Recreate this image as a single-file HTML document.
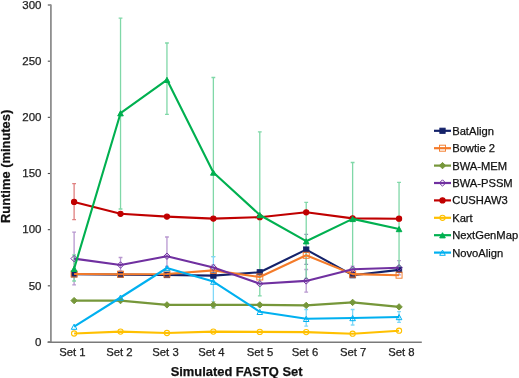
<!DOCTYPE html>
<html><head><meta charset="utf-8"><style>
html,body{margin:0;padding:0;background:#fff;}
body{width:519px;height:378px;overflow:hidden;}
svg{display:block;will-change:transform;}
text{font-family:"Liberation Sans",sans-serif;stroke:currentColor;stroke-width:0.25px;}
</style></head><body>
<svg width="519" height="378" viewBox="0 0 519 378">
<rect width="519" height="378" fill="#fff"/>

<line x1="47.8" y1="342.00" x2="51" y2="342.00" stroke="#4a4a4a" stroke-width="1.1"/>
<text x="41.5" y="346.10" font-size="11.5" text-anchor="end" fill="#222" color="#222">0</text>
<line x1="47.8" y1="285.83" x2="51" y2="285.83" stroke="#4a4a4a" stroke-width="1.1"/>
<text x="41.5" y="289.94" font-size="11.5" text-anchor="end" fill="#222" color="#222">50</text>
<line x1="47.8" y1="229.67" x2="51" y2="229.67" stroke="#4a4a4a" stroke-width="1.1"/>
<text x="41.5" y="232.97" font-size="11.5" text-anchor="end" fill="#222" color="#222">100</text>
<line x1="47.8" y1="173.50" x2="51" y2="173.50" stroke="#4a4a4a" stroke-width="1.1"/>
<text x="41.5" y="176.81" font-size="11.5" text-anchor="end" fill="#222" color="#222">150</text>
<line x1="47.8" y1="117.34" x2="51" y2="117.34" stroke="#4a4a4a" stroke-width="1.1"/>
<text x="41.5" y="121.44" font-size="11.5" text-anchor="end" fill="#222" color="#222">200</text>
<line x1="47.8" y1="61.18" x2="51" y2="61.18" stroke="#4a4a4a" stroke-width="1.1"/>
<text x="41.5" y="65.28" font-size="11.5" text-anchor="end" fill="#222" color="#222">250</text>
<line x1="47.8" y1="5.01" x2="51" y2="5.01" stroke="#4a4a4a" stroke-width="1.1"/>
<text x="41.5" y="9.11" font-size="11.5" text-anchor="end" fill="#222" color="#222">300</text>
<line x1="50.9" y1="4.41" x2="50.9" y2="342.8" stroke="#8f8f8f" stroke-width="1.8"/>
<line x1="47.6" y1="342.3" x2="421.8" y2="342.3" stroke="#7a7a7a" stroke-width="1.4"/>
<text x="72.35" y="356.1" font-size="11.3" text-anchor="middle" fill="#222" color="#222">Set 1</text>
<text x="119.35" y="356.1" font-size="11.3" text-anchor="middle" fill="#222" color="#222">Set 2</text>
<text x="165.50" y="356.1" font-size="11.3" text-anchor="middle" fill="#222" color="#222">Set 3</text>
<text x="211.40" y="356.1" font-size="11.3" text-anchor="middle" fill="#222" color="#222">Set 4</text>
<text x="260.00" y="356.1" font-size="11.3" text-anchor="middle" fill="#222" color="#222">Set 5</text>
<text x="305.00" y="356.1" font-size="11.3" text-anchor="middle" fill="#222" color="#222">Set 6</text>
<text x="353.20" y="356.1" font-size="11.3" text-anchor="middle" fill="#222" color="#222">Set 7</text>
<text x="401.35" y="356.1" font-size="11.3" text-anchor="middle" fill="#222" color="#222">Set 8</text>
<text x="236.6" y="376.2" font-size="12.9" font-weight="bold" text-anchor="middle" fill="#111" color="#111">Simulated FASTQ Set</text>
<text transform="translate(10.3,166.4) rotate(-90)" font-size="12.9" font-weight="bold" text-anchor="middle" fill="#111" color="#111">Runtime (minutes)</text>
<path d="M306.21 234.30V264.30M304.31 234.30H308.11M304.31 264.30H308.11" stroke="#8a90b4" stroke-width="1.3" fill="none"/>
<path d="M213.37 301.70V308.30M211.47 301.70H215.27M211.47 308.30H215.27" stroke="#bacb9c" stroke-width="1.3" fill="none"/>
<path d="M74.11 232.20V284.80M72.21 232.20H76.01M72.21 284.80H76.01" stroke="#b898d0" stroke-width="1.3" fill="none"/>
<path d="M120.53 257.50V270.80M118.63 257.50H122.43M118.63 270.80H122.43" stroke="#b898d0" stroke-width="1.3" fill="none"/>
<path d="M166.95 237.00V266.50M165.05 237.00H168.85M165.05 266.50H168.85" stroke="#b898d0" stroke-width="1.3" fill="none"/>
<path d="M213.37 264.80V270.20M211.47 264.80H215.27M211.47 270.20H215.27" stroke="#b898d0" stroke-width="1.3" fill="none"/>
<path d="M306.21 269.50V292.20M304.31 269.50H308.11M304.31 292.20H308.11" stroke="#b898d0" stroke-width="1.3" fill="none"/>
<path d="M352.63 266.10V272.50M350.73 266.10H354.53M350.73 272.50H354.53" stroke="#b898d0" stroke-width="1.3" fill="none"/>
<path d="M399.05 260.70V274.90M397.15 260.70H400.95M397.15 274.90H400.95" stroke="#b898d0" stroke-width="1.3" fill="none"/>
<path d="M74.11 183.60V219.70M72.21 183.60H76.01M72.21 219.70H76.01" stroke="#e08080" stroke-width="1.3" fill="none"/>
<path d="M74.11 255.00V281.00M72.21 255.00H76.01M72.21 281.00H76.01" stroke="#80d8a8" stroke-width="1.3" fill="none"/>
<path d="M120.53 18.20V209.00M118.63 18.20H122.43M118.63 209.00H122.43" stroke="#80d8a8" stroke-width="1.3" fill="none"/>
<path d="M166.95 43.00V114.40M165.05 43.00H168.85M165.05 114.40H168.85" stroke="#80d8a8" stroke-width="1.3" fill="none"/>
<path d="M213.37 77.50V256.60M211.47 77.50H215.27M211.47 256.60H215.27" stroke="#80d8a8" stroke-width="1.3" fill="none"/>
<path d="M259.79 131.80V295.90M257.89 131.80H261.69M257.89 295.90H261.69" stroke="#80d8a8" stroke-width="1.3" fill="none"/>
<path d="M306.21 202.40V278.30M304.31 202.40H308.11M304.31 278.30H308.11" stroke="#80d8a8" stroke-width="1.3" fill="none"/>
<path d="M352.63 162.50V268.00M350.73 162.50H354.53M350.73 268.00H354.53" stroke="#80d8a8" stroke-width="1.3" fill="none"/>
<path d="M399.05 182.40V266.00M397.15 182.40H400.95M397.15 266.00H400.95" stroke="#80d8a8" stroke-width="1.3" fill="none"/>
<path d="M213.37 256.60V307.00M211.47 256.60H215.27M211.47 307.00H215.27" stroke="#80d8f8" stroke-width="1.3" fill="none"/>
<path d="M306.21 309.50V326.20M304.31 309.50H308.11M304.31 326.20H308.11" stroke="#80d8f8" stroke-width="1.3" fill="none"/>
<path d="M352.63 309.50V325.00M350.73 309.50H354.53M350.73 325.00H354.53" stroke="#80d8f8" stroke-width="1.3" fill="none"/>
<path d="M399.05 311.60V322.40M397.15 311.60H400.95M397.15 322.40H400.95" stroke="#80d8f8" stroke-width="1.3" fill="none"/>
<polyline points="74.11,274.30 120.53,274.60 166.95,275.00 213.37,275.60 259.79,272.30 306.21,249.60 352.63,275.20 399.05,269.90" fill="none" stroke="#14226a" stroke-width="2.1" stroke-linejoin="round"/>
<rect x="71.41" y="271.60" width="5.40" height="5.40" fill="#14226a" stroke="#14226a" stroke-width="0.8"/>
<rect x="117.83" y="271.90" width="5.40" height="5.40" fill="#14226a" stroke="#14226a" stroke-width="0.8"/>
<rect x="164.25" y="272.30" width="5.40" height="5.40" fill="#14226a" stroke="#14226a" stroke-width="0.8"/>
<rect x="210.67" y="272.90" width="5.40" height="5.40" fill="#14226a" stroke="#14226a" stroke-width="0.8"/>
<rect x="257.09" y="269.60" width="5.40" height="5.40" fill="#14226a" stroke="#14226a" stroke-width="0.8"/>
<rect x="303.51" y="246.90" width="5.40" height="5.40" fill="#14226a" stroke="#14226a" stroke-width="0.8"/>
<rect x="349.93" y="272.50" width="5.40" height="5.40" fill="#14226a" stroke="#14226a" stroke-width="0.8"/>
<rect x="396.35" y="267.20" width="5.40" height="5.40" fill="#14226a" stroke="#14226a" stroke-width="0.8"/>
<polyline points="74.11,274.00 120.53,274.20 166.95,274.00 213.37,270.40 259.79,277.00 306.21,255.30 352.63,274.10 399.05,275.20" fill="none" stroke="#f47b2a" stroke-width="2.1" stroke-linejoin="round"/>
<rect x="71.11" y="271.00" width="6.00" height="6.00" fill="none" stroke="#f47b2a" stroke-width="0.95"/>
<rect x="117.53" y="271.20" width="6.00" height="6.00" fill="none" stroke="#f47b2a" stroke-width="0.95"/>
<rect x="163.95" y="271.00" width="6.00" height="6.00" fill="none" stroke="#f47b2a" stroke-width="0.95"/>
<rect x="210.37" y="267.40" width="6.00" height="6.00" fill="none" stroke="#f47b2a" stroke-width="0.95"/>
<rect x="256.79" y="274.00" width="6.00" height="6.00" fill="none" stroke="#f47b2a" stroke-width="0.95"/>
<rect x="303.21" y="252.30" width="6.00" height="6.00" fill="none" stroke="#f47b2a" stroke-width="0.95"/>
<rect x="349.63" y="271.10" width="6.00" height="6.00" fill="none" stroke="#f47b2a" stroke-width="0.95"/>
<rect x="396.05" y="272.20" width="6.00" height="6.00" fill="none" stroke="#f47b2a" stroke-width="0.95"/>
<polyline points="74.11,300.60 120.53,300.60 166.95,304.90 213.37,304.90 259.79,304.90 306.21,305.40 352.63,302.40 399.05,306.90" fill="none" stroke="#76973a" stroke-width="2.1" stroke-linejoin="round"/>
<path d="M74.11 297.40L77.31 300.60L74.11 303.80L70.91 300.60Z" fill="#76973a" stroke="#76973a" stroke-width="1"/>
<path d="M120.53 297.40L123.73 300.60L120.53 303.80L117.33 300.60Z" fill="#76973a" stroke="#76973a" stroke-width="1"/>
<path d="M166.95 301.70L170.15 304.90L166.95 308.10L163.75 304.90Z" fill="#76973a" stroke="#76973a" stroke-width="1"/>
<path d="M213.37 301.70L216.57 304.90L213.37 308.10L210.17 304.90Z" fill="#76973a" stroke="#76973a" stroke-width="1"/>
<path d="M259.79 301.70L262.99 304.90L259.79 308.10L256.59 304.90Z" fill="#76973a" stroke="#76973a" stroke-width="1"/>
<path d="M306.21 302.20L309.41 305.40L306.21 308.60L303.01 305.40Z" fill="#76973a" stroke="#76973a" stroke-width="1"/>
<path d="M352.63 299.20L355.83 302.40L352.63 305.60L349.43 302.40Z" fill="#76973a" stroke="#76973a" stroke-width="1"/>
<path d="M399.05 303.70L402.25 306.90L399.05 310.10L395.85 306.90Z" fill="#76973a" stroke="#76973a" stroke-width="1"/>
<polyline points="74.11,258.60 120.53,265.00 166.95,256.20 213.37,267.50 259.79,283.70 306.21,280.90 352.63,269.30 399.05,267.80" fill="none" stroke="#7030a0" stroke-width="2.1" stroke-linejoin="round"/>
<path d="M74.11 255.40L77.31 258.60L74.11 261.80L70.91 258.60Z" fill="none" stroke="#7030a0" stroke-width="1"/>
<path d="M120.53 261.80L123.73 265.00L120.53 268.20L117.33 265.00Z" fill="none" stroke="#7030a0" stroke-width="1"/>
<path d="M166.95 253.00L170.15 256.20L166.95 259.40L163.75 256.20Z" fill="none" stroke="#7030a0" stroke-width="1"/>
<path d="M213.37 264.30L216.57 267.50L213.37 270.70L210.17 267.50Z" fill="none" stroke="#7030a0" stroke-width="1"/>
<path d="M259.79 280.50L262.99 283.70L259.79 286.90L256.59 283.70Z" fill="none" stroke="#7030a0" stroke-width="1"/>
<path d="M306.21 277.70L309.41 280.90L306.21 284.10L303.01 280.90Z" fill="none" stroke="#7030a0" stroke-width="1"/>
<path d="M352.63 266.10L355.83 269.30L352.63 272.50L349.43 269.30Z" fill="none" stroke="#7030a0" stroke-width="1"/>
<path d="M399.05 264.60L402.25 267.80L399.05 271.00L395.85 267.80Z" fill="none" stroke="#7030a0" stroke-width="1"/>
<polyline points="74.11,201.90 120.53,213.80 166.95,216.60 213.37,218.60 259.79,217.20 306.21,212.30 352.63,218.40 399.05,218.70" fill="none" stroke="#c00000" stroke-width="2.1" stroke-linejoin="round"/>
<circle cx="74.11" cy="201.90" r="2.60" fill="#c00000" stroke="#c00000" stroke-width="1.1"/>
<circle cx="120.53" cy="213.80" r="2.60" fill="#c00000" stroke="#c00000" stroke-width="1.1"/>
<circle cx="166.95" cy="216.60" r="2.60" fill="#c00000" stroke="#c00000" stroke-width="1.1"/>
<circle cx="213.37" cy="218.60" r="2.60" fill="#c00000" stroke="#c00000" stroke-width="1.1"/>
<circle cx="259.79" cy="217.20" r="2.60" fill="#c00000" stroke="#c00000" stroke-width="1.1"/>
<circle cx="306.21" cy="212.30" r="2.60" fill="#c00000" stroke="#c00000" stroke-width="1.1"/>
<circle cx="352.63" cy="218.40" r="2.60" fill="#c00000" stroke="#c00000" stroke-width="1.1"/>
<circle cx="399.05" cy="218.70" r="2.60" fill="#c00000" stroke="#c00000" stroke-width="1.1"/>
<polyline points="74.11,333.50 120.53,331.60 166.95,333.00 213.37,331.60 259.79,331.90 306.21,332.10 352.63,333.70 399.05,330.70" fill="none" stroke="#ffc000" stroke-width="2.1" stroke-linejoin="round"/>
<circle cx="74.11" cy="333.50" r="2.60" fill="none" stroke="#ffc000" stroke-width="1.1"/>
<circle cx="120.53" cy="331.60" r="2.60" fill="none" stroke="#ffc000" stroke-width="1.1"/>
<circle cx="166.95" cy="333.00" r="2.60" fill="none" stroke="#ffc000" stroke-width="1.1"/>
<circle cx="213.37" cy="331.60" r="2.60" fill="none" stroke="#ffc000" stroke-width="1.1"/>
<circle cx="259.79" cy="331.90" r="2.60" fill="none" stroke="#ffc000" stroke-width="1.1"/>
<circle cx="306.21" cy="332.10" r="2.60" fill="none" stroke="#ffc000" stroke-width="1.1"/>
<circle cx="352.63" cy="333.70" r="2.60" fill="none" stroke="#ffc000" stroke-width="1.1"/>
<circle cx="399.05" cy="330.70" r="2.60" fill="none" stroke="#ffc000" stroke-width="1.1"/>
<polyline points="74.11,268.80 120.53,113.20 166.95,79.80 213.37,172.50 259.79,215.00 306.21,241.20 352.63,218.90 399.05,229.00" fill="none" stroke="#00b050" stroke-width="2.1" stroke-linejoin="round"/>
<path d="M74.11 266.30L76.91 271.50L71.31 271.50Z" fill="#00b050" stroke="#00b050" stroke-width="1"/>
<path d="M120.53 110.70L123.33 115.90L117.73 115.90Z" fill="#00b050" stroke="#00b050" stroke-width="1"/>
<path d="M166.95 77.30L169.75 82.50L164.15 82.50Z" fill="#00b050" stroke="#00b050" stroke-width="1"/>
<path d="M213.37 170.00L216.17 175.20L210.57 175.20Z" fill="#00b050" stroke="#00b050" stroke-width="1"/>
<path d="M259.79 212.50L262.59 217.70L256.99 217.70Z" fill="#00b050" stroke="#00b050" stroke-width="1"/>
<path d="M306.21 238.70L309.01 243.90L303.41 243.90Z" fill="#00b050" stroke="#00b050" stroke-width="1"/>
<path d="M352.63 216.40L355.43 221.60L349.83 221.60Z" fill="#00b050" stroke="#00b050" stroke-width="1"/>
<path d="M399.05 226.50L401.85 231.70L396.25 231.70Z" fill="#00b050" stroke="#00b050" stroke-width="1"/>
<polyline points="74.11,326.60 120.53,297.50 166.95,268.00 213.37,281.60 259.79,311.80 306.21,318.80 352.63,318.00 399.05,317.00" fill="none" stroke="#00b0f0" stroke-width="2.1" stroke-linejoin="round"/>
<path d="M74.11 324.10L76.91 329.30L71.31 329.30Z" fill="none" stroke="#00b0f0" stroke-width="1"/>
<path d="M120.53 295.00L123.33 300.20L117.73 300.20Z" fill="none" stroke="#00b0f0" stroke-width="1"/>
<path d="M166.95 265.50L169.75 270.70L164.15 270.70Z" fill="none" stroke="#00b0f0" stroke-width="1"/>
<path d="M213.37 279.10L216.17 284.30L210.57 284.30Z" fill="none" stroke="#00b0f0" stroke-width="1"/>
<path d="M259.79 309.30L262.59 314.50L256.99 314.50Z" fill="none" stroke="#00b0f0" stroke-width="1"/>
<path d="M306.21 316.30L309.01 321.50L303.41 321.50Z" fill="none" stroke="#00b0f0" stroke-width="1"/>
<path d="M352.63 315.50L355.43 320.70L349.83 320.70Z" fill="none" stroke="#00b0f0" stroke-width="1"/>
<path d="M399.05 314.50L401.85 319.70L396.25 319.70Z" fill="none" stroke="#00b0f0" stroke-width="1"/>
<line x1="434" y1="130.80" x2="451" y2="130.80" stroke="#14226a" stroke-width="2.2"/>
<rect x="439.80" y="128.10" width="5.40" height="5.40" fill="#14226a" stroke="#14226a" stroke-width="0.8"/>
<text x="452.2" y="134.70" font-size="11.2" fill="#111" color="#111">BatAlign</text>
<line x1="434" y1="148.20" x2="451" y2="148.20" stroke="#f47b2a" stroke-width="2.2"/>
<rect x="439.50" y="145.20" width="6.00" height="6.00" fill="none" stroke="#f47b2a" stroke-width="0.95"/>
<text x="452.2" y="152.10" font-size="11.2" fill="#111" color="#111">Bowtie 2</text>
<line x1="434" y1="165.60" x2="451" y2="165.60" stroke="#76973a" stroke-width="2.2"/>
<path d="M442.50 162.40L445.70 165.60L442.50 168.80L439.30 165.60Z" fill="#76973a" stroke="#76973a" stroke-width="1"/>
<text x="452.2" y="169.50" font-size="11.2" fill="#111" color="#111">BWA-MEM</text>
<line x1="434" y1="183.00" x2="451" y2="183.00" stroke="#7030a0" stroke-width="2.2"/>
<path d="M442.50 179.80L445.70 183.00L442.50 186.20L439.30 183.00Z" fill="none" stroke="#7030a0" stroke-width="1"/>
<text x="452.2" y="186.90" font-size="11.2" fill="#111" color="#111">BWA-PSSM</text>
<line x1="434" y1="200.40" x2="451" y2="200.40" stroke="#c00000" stroke-width="2.2"/>
<circle cx="442.50" cy="200.40" r="2.60" fill="#c00000" stroke="#c00000" stroke-width="1.1"/>
<text x="452.2" y="204.30" font-size="11.2" fill="#111" color="#111">CUSHAW3</text>
<line x1="434" y1="217.80" x2="451" y2="217.80" stroke="#ffc000" stroke-width="2.2"/>
<circle cx="442.50" cy="217.80" r="2.60" fill="none" stroke="#ffc000" stroke-width="1.1"/>
<text x="452.2" y="221.70" font-size="11.2" fill="#111" color="#111">Kart</text>
<line x1="434" y1="235.20" x2="451" y2="235.20" stroke="#00b050" stroke-width="2.2"/>
<path d="M442.50 232.70L445.30 237.90L439.70 237.90Z" fill="#00b050" stroke="#00b050" stroke-width="1"/>
<text x="452.2" y="239.10" font-size="11.2" fill="#111" color="#111">NextGenMap</text>
<line x1="434" y1="252.60" x2="451" y2="252.60" stroke="#00b0f0" stroke-width="2.2"/>
<path d="M442.50 250.10L445.30 255.30L439.70 255.30Z" fill="none" stroke="#00b0f0" stroke-width="1"/>
<text x="452.2" y="256.50" font-size="11.2" fill="#111" color="#111">NovoAlign</text>
</svg>
</body></html>
